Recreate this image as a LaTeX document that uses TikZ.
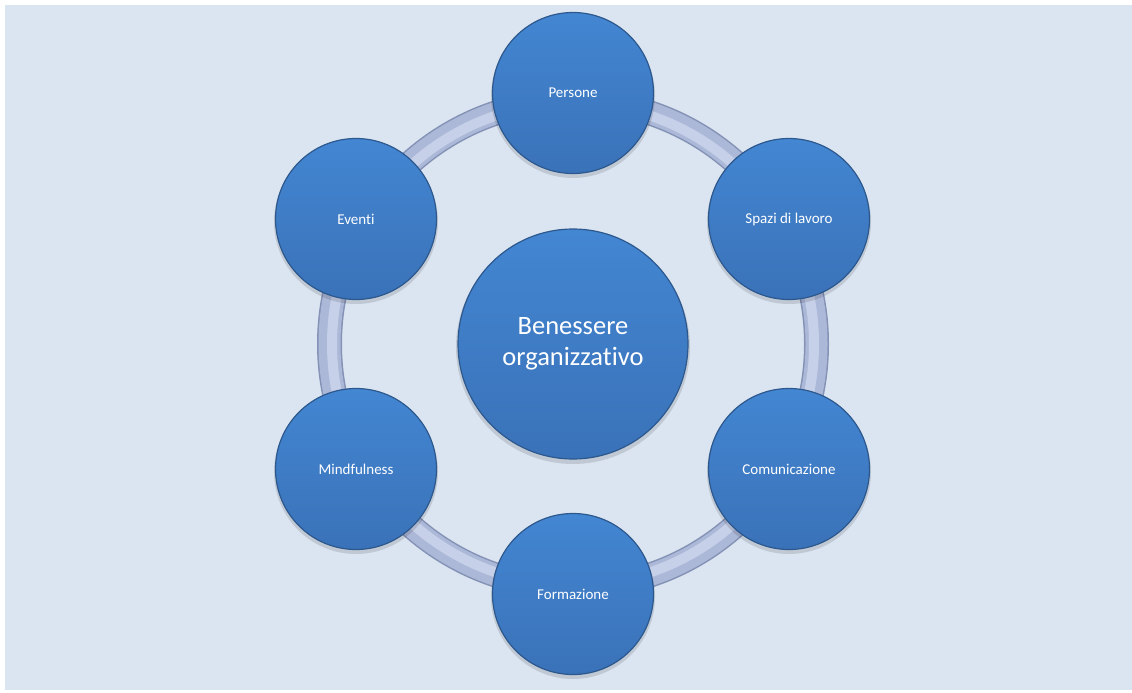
\documentclass[tikz,border=0pt]{standalone}
\usepackage{fontspec}
\setmainfont{Carlito}[RawFeature=-liga]
\usetikzlibrary{calc}
\definecolor{bg}{RGB}{219,229,241}
\definecolor{balltop}{RGB}{67,134,210}
\definecolor{ballbot}{RGB}{58,114,184}
\definecolor{balledge}{RGB}{44,88,142}
\definecolor{ringdark}{RGB}{132,146,182}
\definecolor{ringmid}{RGB}{172,184,216}
\definecolor{ringlight}{RGB}{198,208,232}
\begin{document}
\begin{tikzpicture}[x=1pt,y=-1pt,
  ball/.style={circle, minimum size=#1, inner sep=0pt, draw=balledge, line width=1.2pt,
    top color=balltop, bottom color=ballbot, text=white, align=center},
  ballshadow/.style={fill=black, opacity=0.12},
  small/.style={font=\fontsize{15}{18}\selectfont},
  big/.style={font=\fontsize{26.5}{31}\selectfont}]
\useasboundingbox (0,0) rectangle (1132,693);
\fill[white] (0,0) rectangle (1132,693);
\fill[bg] (5,5) rectangle (1132,690);
% ring
\coordinate (c) at (573,344);
\draw[ringdark, line width=25pt] (c) circle[radius=243.5];
\draw[ringmid, line width=22pt] (c) circle[radius=243.5];
\draw[ringlight, line width=10pt] (c) circle[radius=241];
% shadows
\foreach \p/\r in {{573,344}/117,{573,93}/82,{789,219}/82,{789,469}/82,{573,594}/82,{356,469}/82,{356,219}/82}
  \fill[ballshadow] ($(\p)+(0,3)$) circle[radius=\r];
% nodes
\node[ball=230pt, big] (centre) at (573,344) {Benessere\\organizzativo};
\node[ball=161pt, small] (persone) at (573,93) {Persone};
\node[ball=161pt, small] (spazi) at (789,219) {Spazi di lavoro};
\node[ball=161pt, small] (comun) at (789,469) {Comunicazione};
\node[ball=161pt, small] (form) at (573,594) {Formazione};
\node[ball=161pt, small] (mind) at (356,469) {Mindfulness};
\node[ball=161pt, small] (eventi) at (356,219) {Eventi};
\end{tikzpicture}
\end{document}
